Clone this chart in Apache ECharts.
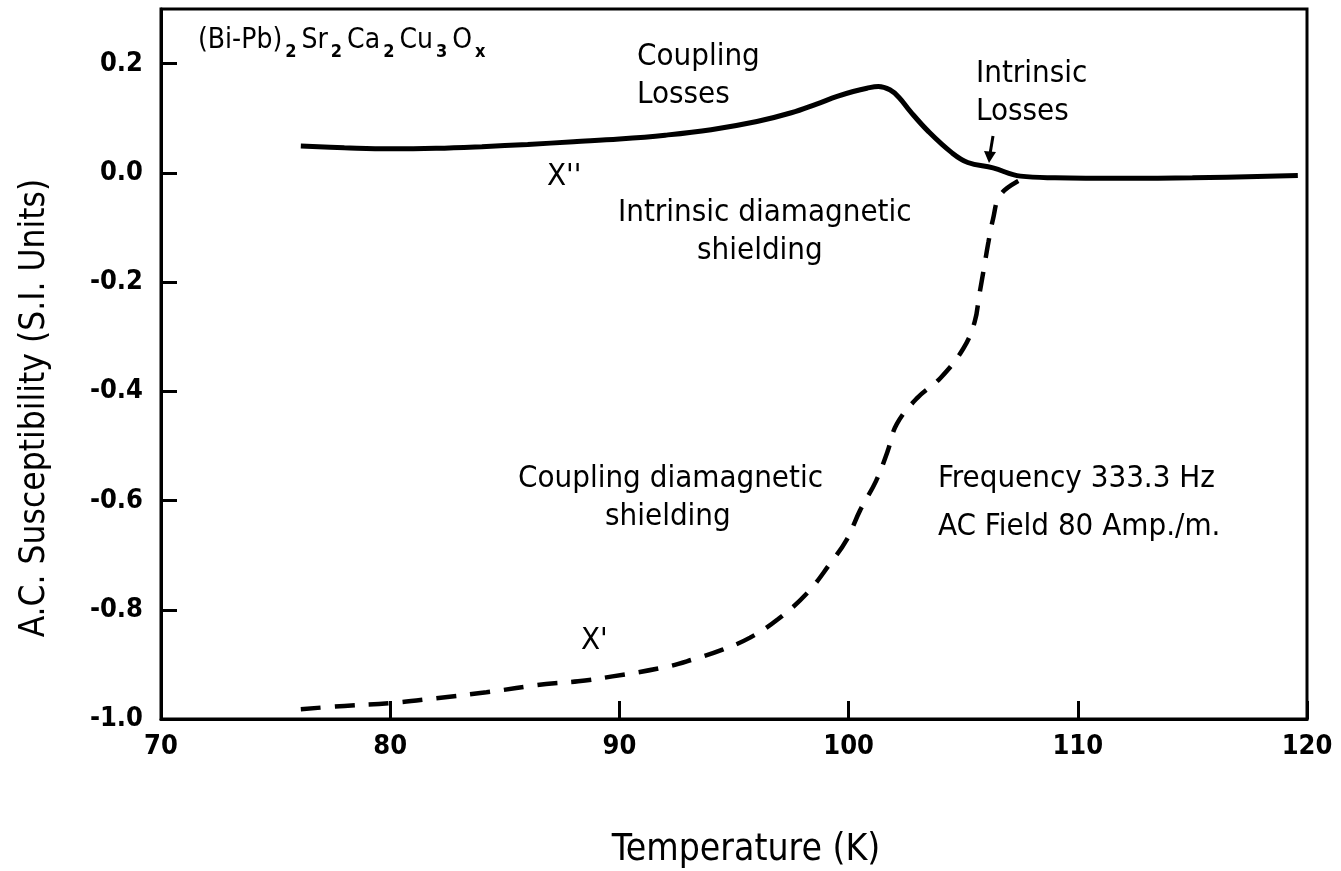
<!DOCTYPE html>
<html>
<head>
<meta charset="utf-8">
<script src="https://cdn.jsdelivr.net/npm/echarts@6/dist/echarts.min.js"></script>
<style>
  html, body { margin: 0; padding: 0; background: #fff; }
  #chart { width: 1341px; height: 871px; }
</style>
</head>
<body>
<div id="chart"></div>
<script>
// X'' (solid) — temperature K / susceptibility
const chi2T = [76.1, 78, 80, 82, 84, 86, 88, 90, 92, 94, 96, 97.5, 98.6, 99.5, 100.2, 100.8, 101.3, 101.8, 102.2, 102.7, 103.5, 104.5, 105.2, 106.3, 107.5, 109, 112, 115, 119.6];
const chi2V = [0.049, 0.046, 0.044, 0.045, 0.048, 0.052, 0.057, 0.062, 0.069, 0.079, 0.094, 0.110, 0.126, 0.140, 0.149, 0.155, 0.158, 0.152, 0.138, 0.112, 0.075, 0.037, 0.019, 0.009, -0.006, -0.009, -0.010, -0.009, -0.005];

// X' (dashed)
const chi1T = [76.1, 78, 80, 82, 84.2, 86.8, 88.2, 89.7, 92.0, 93.2, 94.5, 95.7, 96.9, 98.2, 99.2, 99.9, 100.5, 101.2, 101.7, 102.1, 103.0, 104.0, 105.0, 105.5, 105.7, 105.9, 106.1, 106.3, 106.6, 107.4, 108.0];
const chi1V = [-0.982, -0.976, -0.971, -0.962, -0.951, -0.936, -0.931, -0.922, -0.905, -0.891, -0.873, -0.851, -0.818, -0.769, -0.715, -0.673, -0.618, -0.564, -0.51, -0.46, -0.412, -0.376, -0.322, -0.273, -0.224, -0.176, -0.127, -0.085, -0.042, -0.015, -0.008];

const FONT = '"DejaVu Sans Condensed", "DejaVu Sans", sans-serif';

const toPairs = (xs, ys) => xs.map((x, i) => [x, ys[i]]);

function label(text, x, y, size) {
  return {
    type: 'text', left: x, top: y,
    style: { text: text, font: (size || 31) + 'px ' + FONT, fill: '#000', lineHeight: 38 }
  };
}

const chart = echarts.init(document.getElementById('chart'));

chart.setOption({
  backgroundColor: '#fff',
  animation: false,
  grid: {
    left: 161, right: 34, top: 9, bottom: 152,
    show: true, borderColor: '#000', borderWidth: 3
  },
  xAxis: {
    type: 'value', min: 70, max: 120, interval: 10,
    axisLine: { onZero: false, lineStyle: { color: '#000', width: 3 } },
    axisTick: { inside: true, length: 18, lineStyle: { color: '#000', width: 3 } },
    axisLabel: { fontFamily: FONT, fontSize: 27, fontWeight: 'bold', color: '#000', margin: 14 },
    splitLine: { show: false }
  },
  yAxis: {
    type: 'value', min: -1.0, max: 0.3, interval: 0.2,
    axisLine: { onZero: false, lineStyle: { color: '#000', width: 3 } },
    axisTick: { inside: true, length: 16, lineStyle: { color: '#000', width: 3 } },
    axisLabel: {
      fontFamily: FONT, fontSize: 27, fontWeight: 'bold', color: '#000', margin: 18,
      showMaxLabel: false,
      formatter: v => v.toFixed(1)
    },
    splitLine: { show: false }
  },
  series: [
    {
      type: 'line', name: "X''", data: toPairs(chi2T, chi2V),
      smooth: 0.4, showSymbol: false,
      lineStyle: { color: '#000', width: 5 }
    },
    {
      type: 'line', name: "X'", data: toPairs(chi1T, chi1V),
      smooth: 0.4, showSymbol: false,
      lineStyle: { color: '#000', width: 4.5, type: [20, 14] }
    }
  ],
  graphic: [
    // axis titles placed by hand (they sit off-centre in the original)
    {
      type: 'text', x: 746, y: 850,
      style: { text: 'Temperature (K)', font: '37px ' + FONT, fill: '#000', align: 'center', verticalAlign: 'middle' }
    },
    {
      type: 'text', x: 35, y: 408, rotation: Math.PI / 2,
      style: { text: 'A.C. Susceptibility (S.I. Units)', font: '35px ' + FONT, fill: '#000', align: 'center', verticalAlign: 'middle' }
    },
    {
      type: 'text', left: 198, top: 27,
      style: {
        text: '{n|(Bi-Pb)}{s|2}{n|Sr}{s|2}{n|Ca}{s|2}{n|Cu}{s|3}{n|O}{s|x}',
        rich: {
          n: { font: '28px ' + FONT, fill: '#000', verticalAlign: 'top', padding: [0, 3, 0, 0] },
          s: { font: 'bold 18px ' + FONT, fill: '#000', verticalAlign: 'bottom', padding: [16, 5, 0, 0] }
        }
      }
    },
    label('Coupling\nLosses', 637, 38),
    label('Intrinsic\nLosses', 976, 55),
    label("X''", 547, 158),
    label('Intrinsic diamagnetic', 618, 194),
    label('shielding', 697, 232),
    label('Coupling diamagnetic', 518, 460),
    label('shielding', 605, 498),
    label('Frequency 333.3 Hz', 938, 460),
    label('AC Field 80 Amp./m.', 938, 508),
    label("X'", 581, 622),
    {
      type: 'line',
      shape: { x1: 993, y1: 136, x2: 990, y2: 154 },
      style: { stroke: '#000', lineWidth: 3 }
    },
    {
      type: 'polygon',
      shape: { points: [[984, 151], [996, 152], [989, 163]] },
      style: { fill: '#000' }
    }
  ]
});
</script>
</body>
</html>
